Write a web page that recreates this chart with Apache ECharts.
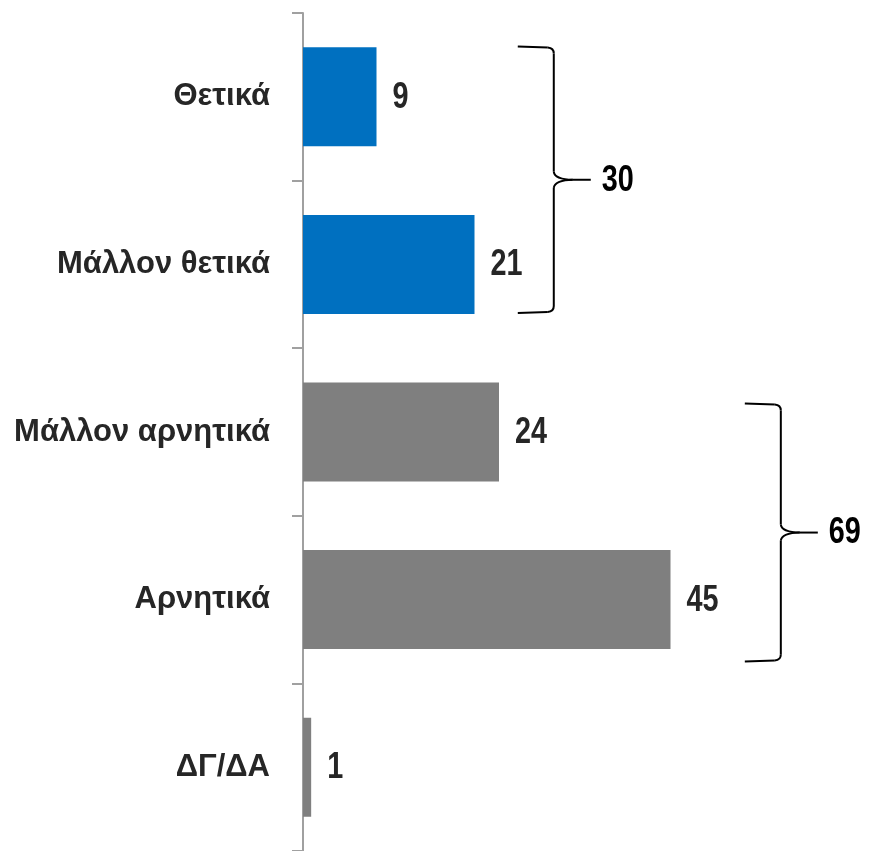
<!DOCTYPE html>
<html>
<head>
<meta charset="utf-8">
<script src="https://cdn.jsdelivr.net/npm/echarts@6/dist/echarts.min.js"></script>
<style>
  html, body { margin: 0; padding: 0; background: #fff; }
  #chart { width: 869px; height: 851px; }
</style>
</head>
<body>
<div id="chart"></div>
<script>
// data
const categories = ['Θετικά', 'Μάλλον θετικά', 'Μάλλον αρνητικά', 'Αρνητικά', 'ΔΓ/ΔΑ'];
const values = [9, 21, 24, 45, 1];
const barColors = ['#0070C0', '#0070C0', '#7F7F7F', '#7F7F7F', '#7F7F7F'];
// grouped totals shown next to the braces
const groupTotals = [30, 69];
const groupMembers = [[0, 1], [2, 3]];

// brace layout (axis units for x, category band fractions for y)
const braceLayout = [
  { x: 26.3, top: -0.30, bottom: 0.29 },
  { x: 54.1, top: -0.17, bottom: 0.37 }
];

const numFont = 'bold 36px "Liberation Sans", Arial, sans-serif';
const narrow = 0.8; // squeeze digits like a narrow face

const braceData = groupTotals.map(function (t, i) {
  return [braceLayout[i].x, groupMembers[i][0], groupMembers[i][1], t, braceLayout[i].top, braceLayout[i].bottom];
});

function numText(x, y, txt, color) {
  return {
    type: 'text',
    x: x, y: y,
    scaleX: narrow,
    style: {
      x: 0, y: 0, text: txt,
      fill: color, font: numFont,
      textAlign: 'left', textVerticalAlign: 'middle'
    }
  };
}

function renderValue(params, api) {
  const p = api.coord([api.value(0), api.value(1)]);
  return numText(p[0] + 16, p[1] + 1, String(api.value(0)), '#262626');
}

function renderBrace(params, api) {
  const band = api.size([0, 1])[1];
  const p0 = api.coord([api.value(0), api.value(1)]);
  const p1 = api.coord([api.value(0), api.value(2)]);
  const xl = p0[0];
  const top = p0[1] + api.value(4) * band;
  const bot = p1[1] + api.value(5) * band;
  const mid = (top + bot) / 2;
  const xv = xl + 36;
  const r = 6;
  const xtip = xv + 19;
  const xend = xv + 37;
  const st = { stroke: '#000', lineWidth: 2, fill: null };
  return {
    type: 'group',
    children: [
      { type: 'line', shape: { x1: xl, y1: top, x2: xv - r, y2: top + 1 }, style: st },
      { type: 'bezierCurve', shape: { x1: xv - r, y1: top + 1, cpx1: xv, cpy1: top + 1.5, x2: xv, y2: top + r + 1 }, style: st },
      { type: 'line', shape: { x1: xv, y1: top + r + 1, x2: xv, y2: mid - 8 }, style: st },
      { type: 'bezierCurve', shape: { x1: xv, y1: mid - 8, cpx1: xv + 1, cpy1: mid - 0.5, x2: xtip, y2: mid }, style: st },
      { type: 'bezierCurve', shape: { x1: xv, y1: mid + 8, cpx1: xv + 1, cpy1: mid + 0.5, x2: xtip, y2: mid }, style: st },
      { type: 'line', shape: { x1: xtip, y1: mid, x2: xend, y2: mid }, style: st },
      { type: 'line', shape: { x1: xv, y1: mid + 8, x2: xv, y2: bot - r - 1 }, style: st },
      { type: 'bezierCurve', shape: { x1: xv, y1: bot - r - 1, cpx1: xv, cpy1: bot - 1.5, x2: xv - r, y2: bot - 1 }, style: st },
      { type: 'line', shape: { x1: xv - r, y1: bot - 1, x2: xl, y2: bot }, style: st },
      numText(xend + 11, mid + 1, String(api.value(3)), '#000')
    ]
  };
}

const chart = echarts.init(document.getElementById('chart'));
chart.setOption({
  animation: false,
  grid: { left: 303, top: 13, width: 490, height: 840, containLabel: false },
  xAxis: {
    type: 'value', min: 0, max: 60, show: false,
    splitLine: { show: false }
  },
  yAxis: {
    type: 'category',
    data: categories,
    inverse: true,
    axisLine: { lineStyle: { color: '#A0A0A0', width: 2 } },
    axisTick: { show: true, length: 11, lineStyle: { color: '#A0A0A0', width: 2 } },
    axisLabel: {
      margin: 33,
      color: '#262626',
      fontFamily: '"Liberation Sans", Arial, sans-serif',
      fontWeight: 'bold',
      fontSize: 31
    }
  },
  series: [
    {
      type: 'bar',
      data: values.map(function (v, i) {
        return { value: v, itemStyle: { color: barColors[i] } };
      }),
      barWidth: 99
    },
    {
      type: 'custom',
      renderItem: renderValue,
      data: values.map(function (v, i) { return [v, i]; }),
      clip: false,
      silent: true
    },
    {
      type: 'custom',
      renderItem: renderBrace,
      data: braceData,
      clip: false,
      silent: true
    }
  ]
});
</script>
</body>
</html>
